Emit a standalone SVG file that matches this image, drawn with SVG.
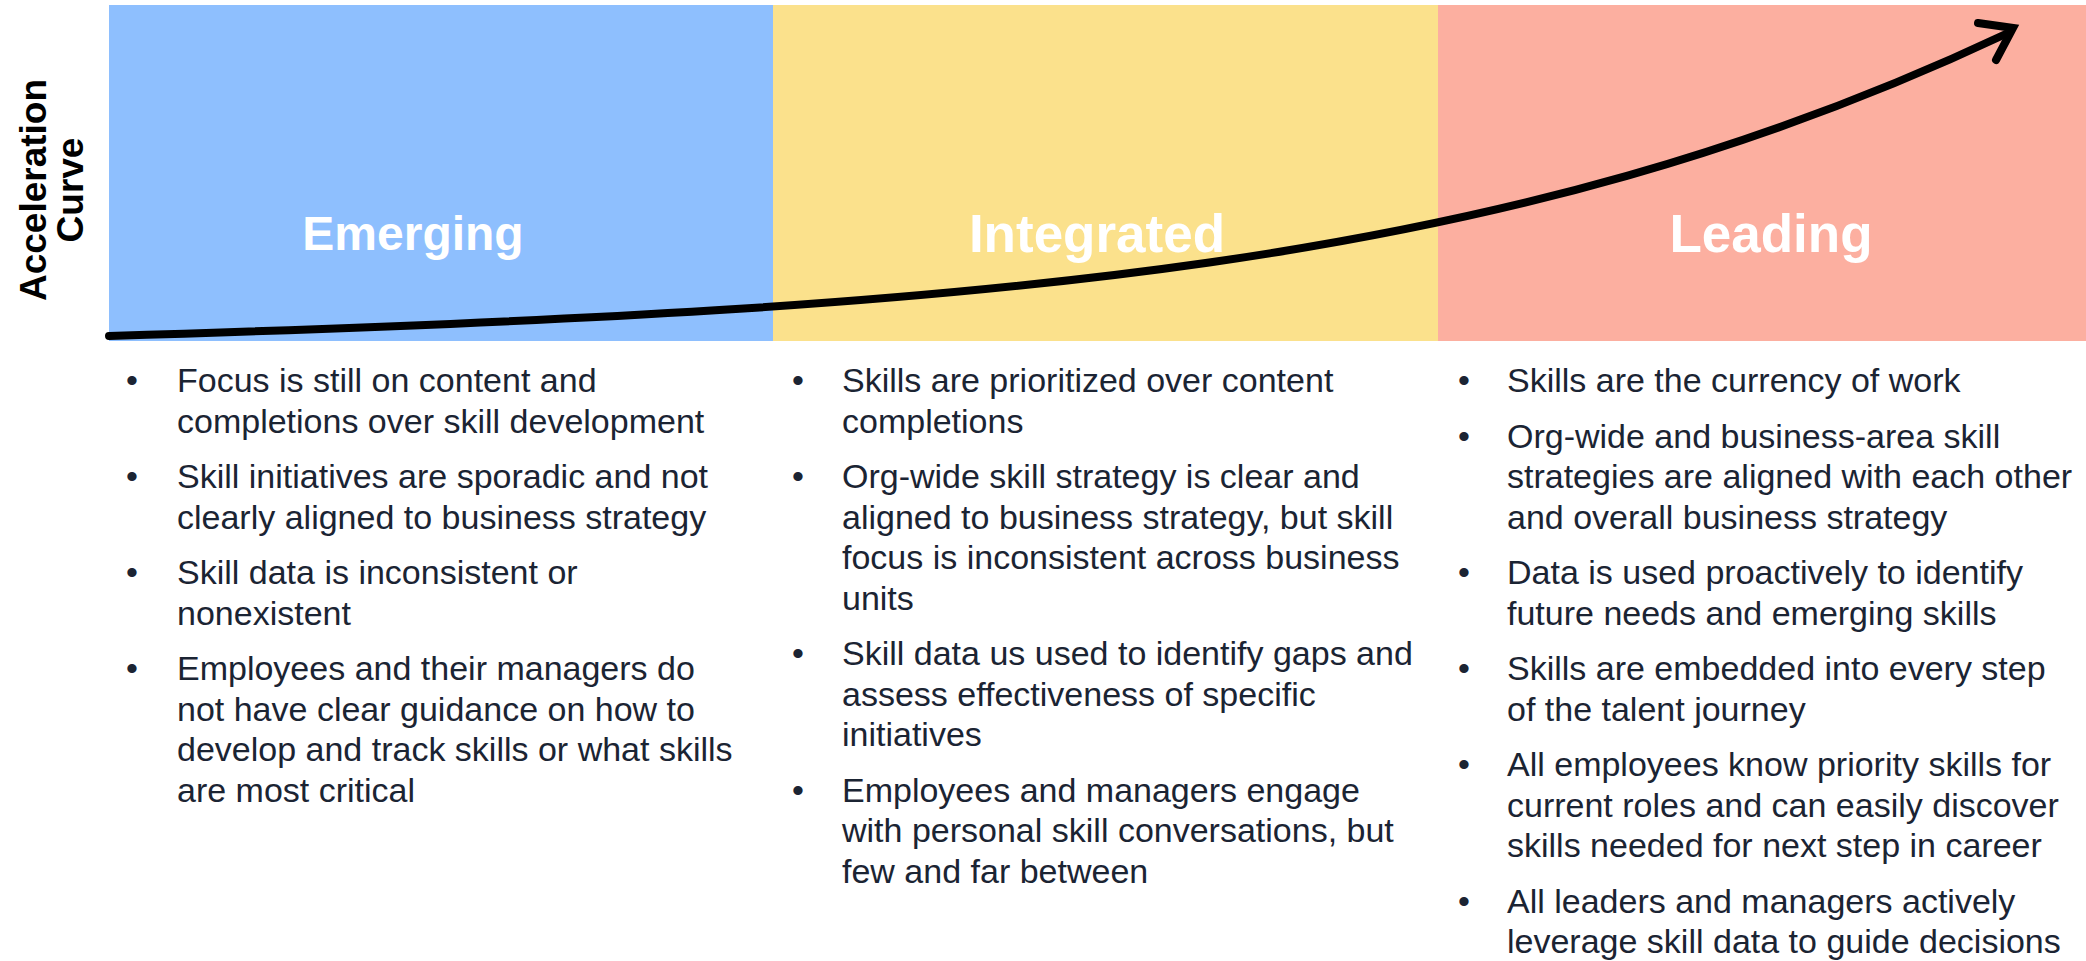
<svg xmlns="http://www.w3.org/2000/svg" width="2086" height="961" viewBox="0 0 2086 961">
<style>
.hdr{font-family:"Liberation Sans",Arial,sans-serif;font-weight:bold;font-size:53px;fill:#ffffff;text-anchor:middle}
.side{font-family:"Liberation Sans",Arial,sans-serif;font-weight:bold;font-size:37px;fill:#000000;text-anchor:middle}
.b{font-family:"Liberation Sans",Arial,sans-serif;font-size:34px;fill:#1b2433}
.curve{fill:none;stroke:#000;stroke-width:8;stroke-linecap:round;stroke-linejoin:miter}
</style>
<rect width="2086" height="961" fill="#ffffff"/>
<g id="label">
<text class="side" transform="translate(46,190) rotate(-90)">Acceleration</text>
<text class="side" transform="translate(83,190) rotate(-90)">Curve</text>
</g>
<g id="emerging">
<rect x="109" y="5" width="664" height="336" fill="#8EBFFE"/>
<text class="hdr" x="413" y="250" style="font-size:48px">Emerging</text>
</g>
<g id="integrated">
<rect x="773" y="5" width="665" height="336" fill="#FBE18C"/>
<text class="hdr" x="1097" y="252">Integrated</text>
</g>
<g id="leading">
<rect x="1438" y="5" width="648" height="336" fill="#FCAFA0"/>
<text class="hdr" x="1771" y="252">Leading</text>
</g>
<g id="connectors">
<path class="curve" d="M109,336 C1009,309 1510,268 2008,33"/>
<polyline class="curve" points="1978,23 2013,28 1996,60"/>
</g>
<g id="col-emerging" class="b">
<text x="126" y="392">•</text>
<text x="177" y="392">Focus is still on content and</text>
<text x="177" y="432.5">completions over skill development</text>
<text x="126" y="488">•</text>
<text x="177" y="488">Skill initiatives are sporadic and not</text>
<text x="177" y="528.5">clearly aligned to business strategy</text>
<text x="126" y="584">•</text>
<text x="177" y="584">Skill data is inconsistent or</text>
<text x="177" y="624.5">nonexistent</text>
<text x="126" y="680">•</text>
<text x="177" y="680">Employees and their managers do</text>
<text x="177" y="720.5">not have clear guidance on how to</text>
<text x="177" y="761">develop and track skills or what skills</text>
<text x="177" y="801.5">are most critical</text>
</g>
<g id="col-integrated" class="b">
<text x="792" y="392">•</text>
<text x="842" y="392">Skills are prioritized over content</text>
<text x="842" y="432.5">completions</text>
<text x="792" y="488">•</text>
<text x="842" y="488">Org-wide skill strategy is clear and</text>
<text x="842" y="528.5">aligned to business strategy, but skill</text>
<text x="842" y="569">focus is inconsistent across business</text>
<text x="842" y="609.5">units</text>
<text x="792" y="665">•</text>
<text x="842" y="665">Skill data us used to identify gaps and</text>
<text x="842" y="705.5">assess effectiveness of specific</text>
<text x="842" y="746">initiatives</text>
<text x="792" y="801.5">•</text>
<text x="842" y="801.5">Employees and managers engage</text>
<text x="842" y="842">with personal skill conversations, but</text>
<text x="842" y="882.5">few and far between</text>
</g>
<g id="col-leading" class="b">
<text x="1458" y="392">•</text>
<text x="1507" y="392">Skills are the currency of work</text>
<text x="1458" y="447.5">•</text>
<text x="1507" y="447.5">Org-wide and business-area skill</text>
<text x="1507" y="488">strategies are aligned with each other</text>
<text x="1507" y="528.5">and overall business strategy</text>
<text x="1458" y="584">•</text>
<text x="1507" y="584">Data is used proactively to identify</text>
<text x="1507" y="624.5">future needs and emerging skills</text>
<text x="1458" y="680">•</text>
<text x="1507" y="680">Skills are embedded into every step</text>
<text x="1507" y="720.5">of the talent journey</text>
<text x="1458" y="776">•</text>
<text x="1507" y="776">All employees know priority skills for</text>
<text x="1507" y="816.5">current roles and can easily discover</text>
<text x="1507" y="857">skills needed for next step in career</text>
<text x="1458" y="912.5">•</text>
<text x="1507" y="912.5">All leaders and managers actively</text>
<text x="1507" y="953">leverage skill data to guide decisions</text>
</g>
</svg>
